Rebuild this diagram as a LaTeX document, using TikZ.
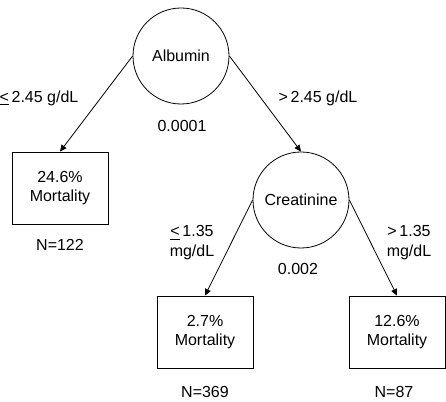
\documentclass[tikz,border=0pt]{standalone}
\usepackage{fontspec}
\setmainfont{Liberation Sans}
\usetikzlibrary{arrows.meta, positioning}

\tikzset{
  split/.style={draw, circle, minimum size=72pt, inner sep=0pt, font=\fontsize{12}{14}\selectfont},
  leaf/.style={draw, rectangle, minimum width=72pt, minimum height=54pt, align=center, font=\fontsize{12}{14.5}\selectfont},
  lbl/.style={align=center, inner sep=0pt, font=\fontsize{12}{15}\selectfont},
  branch/.style={-{Triangle[length=5pt,width=4.5pt]}, line width=0.6pt}
}

\begin{document}
\begin{tikzpicture}[x=0.75pt, y=-0.75pt, line width=0.6pt]
  \useasboundingbox (0,0) rectangle (446,402);

  % split nodes
  \node[split] (albumin) at (181,56) {Albumin};
  \node[split] (creat) at (301,200) {Creatinine};

  % terminal nodes
  \node[leaf] (lowalb) at (60,188) {24.6\%\\Mortality};
  \node[leaf] (lowcr) at (205,332) {2.7\%\\Mortality};
  \node[leaf] (highcr) at (397,332) {12.6\%\\Mortality};

  % branches
  \draw[branch] (albumin.west) -- (lowalb.north);
  \draw[branch] (albumin.east) -- (creat.north);
  \draw[branch] (creat.west) -- (lowcr.north);
  \draw[branch] (creat.east) -- (highcr.north);

  % cut points and p-values
  \node[lbl] (albleft) at (39,98) {\underline{<}\,2.45 g/dL};
  \node[lbl] (albright) at (318,98) {>\,2.45 g/dL};
  \node[lbl] (albp) at (182,126) {0.0001};
  \node[lbl] (crleft) at (192,243) {\underline{<}\,1.35\\mg/dL};
  \node[lbl] (crright) at (409,243) {>\,1.35\\mg/dL};
  \node[lbl] (crp) at (298,269) {0.002};

  % sample sizes
  \node[lbl] (nlowalb) at (60,245) {N=122};
  \node[lbl] (nlowcr) at (205,392) {N=369};
  \node[lbl] (nhighcr) at (394,392) {N=87};
\end{tikzpicture}
\end{document}
